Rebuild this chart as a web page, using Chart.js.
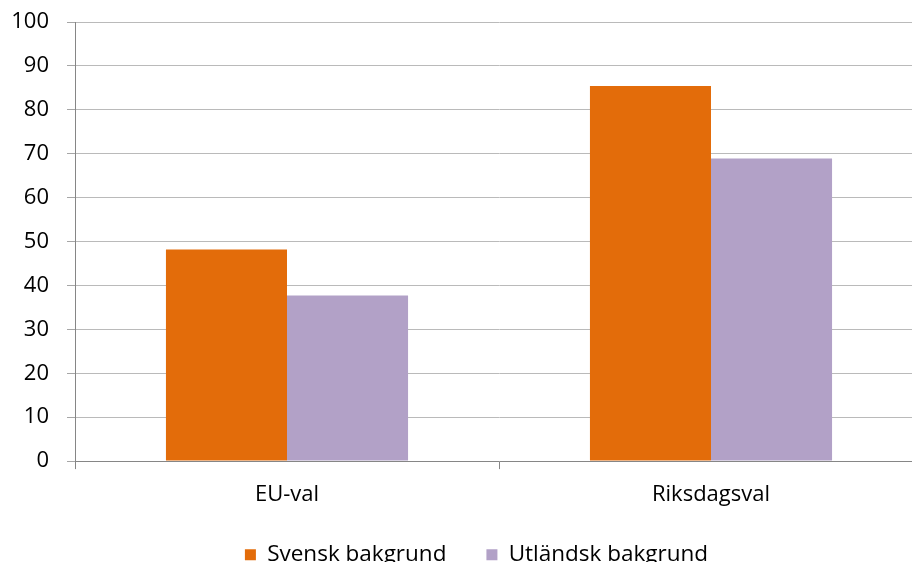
<!DOCTYPE html>
<html lang="sv">

<head>
  <meta charset="UTF-8" />
  <script src="https://cdn.jsdelivr.net/npm/chart.js"></script>
  <title>Valdeltagande</title>
  <style>
    html, body { margin: 0; padding: 0; background: #fff; overflow: hidden; }
    .ram { width: 912px; height: 562px; overflow: hidden; position: relative; }
    .yta { position: absolute; left: 0; top: 0; width: 954px; height: 600px; }
  </style>
</head>

<body>
  <div class="ram">
    <div class="yta">
      <canvas id="valChart"></canvas>
    </div>
  </div>
</body>

</html>

<script>
  // data
  var kategorier = ['EU-val', 'Riksdagsval']
  var svensk = [48.2, 85.4]
  var utlandsk = [37.7, 68.9]
  var serieNamn = ['Svensk bakgrund', 'Utländsk bakgrund']

  var typsnitt = { family: "'Open Sans', 'Noto Sans', sans-serif", size: 22 }

  // flyttar legenden lite (diagrammet är beskuret till höger)
  const flyttaLegend = {
    id: 'flyttaLegend',
    afterLayout(chart) {
      const l = chart.legend
      if (!l) return
      l.left += 15
      l.right += 15
      l.top -= 16
      l.bottom -= 16
    }
  }

  const ctx = document.getElementById('valChart')

  new Chart(ctx, {
    type: 'bar',
    data: {
      labels: kategorier,
      datasets: [{
        label: serieNamn[0],
        data: svensk,
        backgroundColor: '#E36C0A',
        categoryPercentage: 0.571,
        barPercentage: 1
      }, {
        label: serieNamn[1],
        data: utlandsk,
        backgroundColor: '#B2A1C7',
        categoryPercentage: 0.571,
        barPercentage: 1
      }]
    },
    plugins: [flyttaLegend],
    options: {
      responsive: true,
      maintainAspectRatio: false,
      animation: false,
      layout: {
        padding: { left: 0, right: 31, top: 22, bottom: 8 }
      },
      plugins: {
        tooltip: { enabled: false },
        legend: {
          position: 'bottom',
          labels: {
            boxWidth: 11,
            boxHeight: 11,
            padding: 40,
            color: '#000',
            font: { family: typsnitt.family, size: 22.5 }
          }
        }
      },
      scales: {
        x: {
          border: { color: '#868686' },
          grid: {
            drawOnChartArea: false,
            drawTicks: true,
            tickLength: 8,
            tickColor: '#868686'
          },
          ticks: { color: '#000', font: typsnitt, padding: 12 }
        },
        y: {
          min: 0,
          max: 100,
          afterFit: function (scale) {
            scale.width = 75
            scale.paddingTop = 0
            scale.paddingBottom = 0
          },
          border: { color: '#868686' },
          grid: {
            color: '#BABABA',
            tickLength: 8,
            tickColor: '#A6A6A6'
          },
          ticks: { stepSize: 10, color: '#000', font: typsnitt, padding: 18 }
        }
      }
    }
  })
</script>
